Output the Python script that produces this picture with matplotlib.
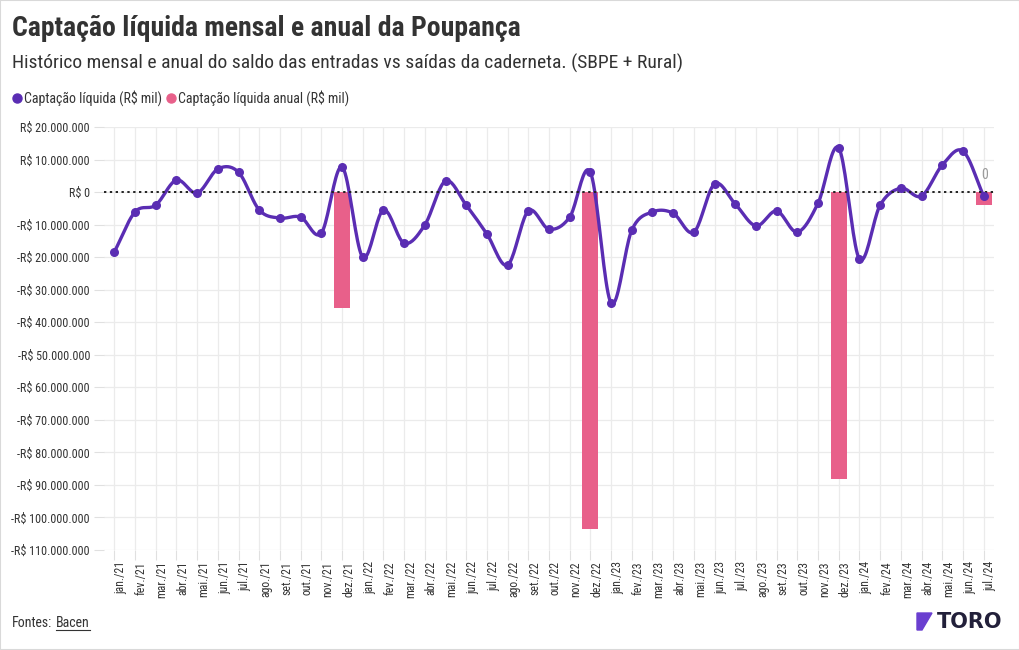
import numpy as np
import matplotlib
matplotlib.use("Agg")
import matplotlib.pyplot as plt
from matplotlib.patches import Rectangle, Polygon
from matplotlib.lines import Line2D
from matplotlib.ticker import FuncFormatter

plt.rcParams['font.family'] = ['Roboto Condensed', 'Liberation Sans Narrow', 'Roboto', 'DejaVu Sans']

# dados (R$ mil)
meses = ['jan./21', 'fev./21', 'mar./21', 'abr./21', 'mai./21', 'jun./21', 'jul./21', 'ago./21',
         'set./21', 'out./21', 'nov./21', 'dez./21',
         'jan./22', 'fev./22', 'mar./22', 'abr./22', 'mai./22', 'jun./22', 'jul./22', 'ago./22',
         'set./22', 'out./22', 'nov./22', 'dez./22',
         'jan./23', 'fev./23', 'mar./23', 'abr./23', 'mai./23', 'jun./23', 'jul./23', 'ago./23',
         'set./23', 'out./23', 'nov./23', 'dez./23',
         'jan./24', 'fev./24', 'mar./24', 'abr./24', 'mai./24', 'jun./24', 'jul./24']
mensal = [-18.4, -6.1, -4.0, 3.7, -0.3, 7.1, 6.1, -5.5, -8.0, -7.7, -12.6, 7.7,
          -20.0, -5.5, -15.7, -10.1, 3.4, -4.0, -12.9, -22.4, -5.8, -11.4, -7.7, 6.1,
          -34.1, -11.7, -6.1, -6.5, -12.3, 2.5, -3.7, -10.4, -5.8, -12.3, -3.4, 13.5,
          -20.6, -4.0, 1.2, -1.2, 8.3, 12.6, -1.2]
mensal = [v * 1e6 for v in mensal]
anual_meses = ['dez./21', 'dez./22', 'dez./23', 'jul./24']
anual = [-35.6e6, -103.6e6, -88.2e6, -4.0e6]

roxo = '#5a2db3'
rosa = '#e8608a'
cinza = '#333333'


def catmull_rom(x, y, n=20):
    # curva suave passando pelos pontos (so para desenho)
    x = np.asarray(x, float)
    y = np.asarray(y, float)
    px = np.concatenate([[2 * x[0] - x[1]], x, [2 * x[-1] - x[-2]]])
    py = np.concatenate([[2 * y[0] - y[1]], y, [2 * y[-1] - y[-2]]])
    xs, ys = [], []
    t = np.linspace(0, 1, n, endpoint=False)
    for i in range(1, len(px) - 2):
        for arr, out in ((px, xs), (py, ys)):
            p0, p1, p2, p3 = arr[i - 1], arr[i], arr[i + 1], arr[i + 2]
            out.extend(0.5 * (2 * p1 + (-p0 + p2) * t + (2 * p0 - 5 * p1 + 4 * p2 - p3) * t ** 2
                              + (-p0 + 3 * p1 - 3 * p2 + p3) * t ** 3))
    xs.append(x[-1])
    ys.append(y[-1])
    return np.array(xs), np.array(ys)


def fmt(v, pos):
    s = f"{abs(v):,.0f}".replace(',', '.')
    return ('-R$ ' if v < 0 else 'R$ ') + s


W, H = 1020, 650
fig = plt.figure(figsize=(W / 100, H / 100), dpi=100)
fig.patches.append(Rectangle((0, 0), 1, 1, transform=fig.transFigure, fill=False,
                             edgecolor='#d9d9d9', linewidth=1.5))
ax = fig.add_axes([104 / W, 1 - 550 / H, 890 / W, 423 / H])

x = np.arange(len(meses))
xa = [meses.index(m) for m in anual_meses]
ax.bar(xa, anual, width=0.78, color=rosa, zorder=2)

sx, sy = catmull_rom(x, mensal)
ax.plot(sx, sy, color=roxo, linewidth=2.4, zorder=3)
ax.scatter(x, mensal, color=roxo, s=30, zorder=4)

ax.axhline(0, color='#222222', linestyle=(0, (1.2, 1.8)), linewidth=1.4, zorder=3)
ax.text(xa[-1] - 0.1, 3e6, '0', color='#999999', fontsize=10, ha='left', va='bottom')

ax.set_xlim(-0.5, len(meses) - 0.5)
ax.set_ylim(-110e6, 20e6)
ax.set_yticks(np.arange(-110e6, 20e6 + 1, 10e6))
ax.yaxis.set_major_formatter(FuncFormatter(fmt))
ax.set_xticks(x)
ax.set_xticklabels(meses, rotation=90, fontsize=8.5, color=cinza, ha='left')
ax.tick_params(axis='y', labelsize=8.7, colors=cinza, length=7, pad=3, color='#e0e0e0')
ax.tick_params(axis='x', length=7, pad=1, color='#e0e0e0')
ax.grid(True, color='#ebebeb', linewidth=0.9, zorder=0)
ax.set_axisbelow(True)
for s in ax.spines.values():
    s.set_visible(False)

fig.text(12 / W, 1 - 28 / H, 'Captação líquida mensal e anual da Poupança', fontsize=20,
         fontweight='bold', color=cinza, va='center', ha='left')
fig.text(12 / W, 1 - 63 / H, 'Histórico mensal e anual do saldo das entradas vs saídas da caderneta. (SBPE + Rural)',
         fontsize=14, color=cinza, va='center', ha='left')

# legenda
fig.add_artist(Line2D([17 / W], [1 - 98 / H], marker='o', markersize=6.5, color=roxo,
                      transform=fig.transFigure))
fig.text(24 / W, 1 - 98 / H, 'Captação líquida (R$ mil)', fontsize=10, color=cinza, va='center')
fig.add_artist(Line2D([171 / W], [1 - 98 / H], marker='o', markersize=6.5, color=rosa,
                      transform=fig.transFigure))
fig.text(178 / W, 1 - 98 / H, 'Captação líquida anual (R$ mil)', fontsize=10, color=cinza, va='center')

# rodape
r = fig.canvas.get_renderer()
t1 = fig.text(12 / W, 1 - 623 / H, 'Fontes:', fontsize=10, color=cinza, va='center')
bb = t1.get_window_extent(r)
t2 = fig.text((bb.x1 + 4) / W, 1 - 623 / H, 'Bacen', fontsize=10, color=cinza, va='center')
bb2 = t2.get_window_extent(r)
fig.add_artist(Line2D([bb2.x0 / W, bb2.x1 / W], [1 - 630 / H, 1 - 630 / H],
                      transform=fig.transFigure, color=cinza, linewidth=0.8))

# logo
fig.patches.append(Polygon([[917 / W, 1 - 613 / H], [932 / W, 1 - 613 / H],
                            [922 / W, 1 - 630 / H], [917 / W, 1 - 630 / H]],
                           closed=True, transform=fig.transFigure, color='#6a3fd0'))
fig.text(937 / W, 1 - 622 / H, 'TORO', fontsize=15, fontweight='bold', color='#22203a',
         va='center', ha='left', family=['DejaVu Sans'])

fig.savefig('out.png', dpi=100, facecolor='white')
